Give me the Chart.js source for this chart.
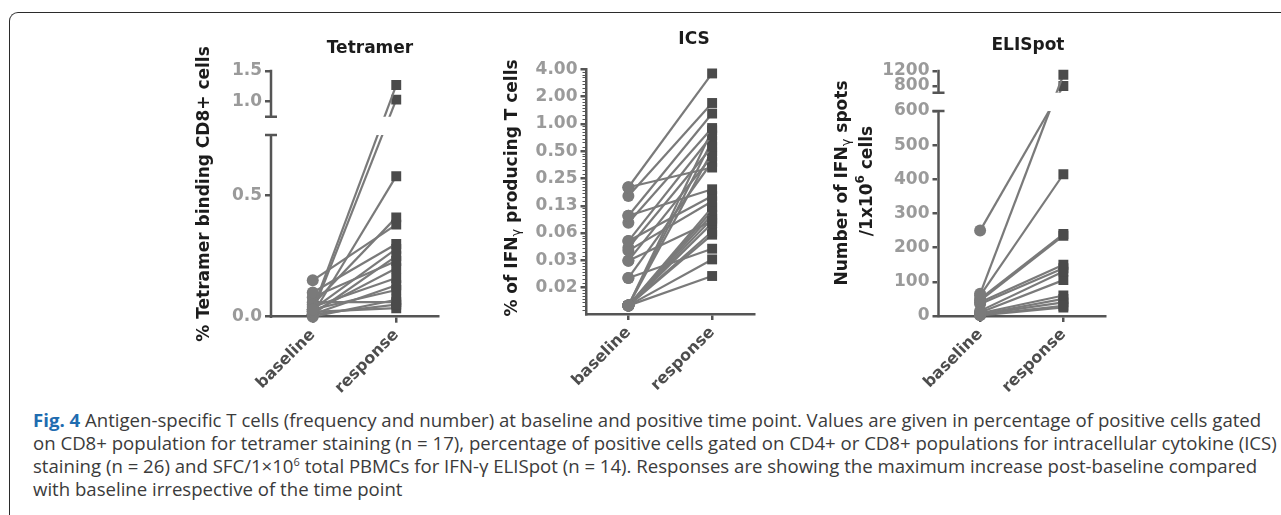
<!DOCTYPE html>
<html lang="en">
<head>
  <meta charset="UTF-8">
  <title>Fig. 4 Antigen-specific T cells</title>
  <script src="https://cdn.jsdelivr.net/npm/chart.js"></script>
  <style>
    html, body { margin: 0; padding: 0; background: #fff; }
    body { position: relative; width: 1281px; height: 515px; overflow: hidden; }
    #frame { position: absolute; left: 9px; top: 12px; width: 1400px; height: 600px;
             border-left: 1px solid #2b2b2b; border-top: 1px solid #2b2b2b; border-top-left-radius: 9px; }
    canvas { position: absolute; }
    #caption { position: absolute; left: 33px; top: 408px; font-family: "Open Sans", sans-serif;
               font-size: 18.6px; line-height: 23px; color: #3b3b3b; white-space: nowrap; }
    #caption b { color: #1f6cb0; }
    #caption sup { font-size: 11px; line-height: 0; }
  </style>
</head>
<body>
  <div id="frame"></div>
  <canvas id="tetramer" width="310" height="380" style="left:150px;top:20px"></canvas>
  <canvas id="ics" width="330" height="380" style="left:440px;top:20px"></canvas>
  <canvas id="elispot" width="330" height="380" style="left:800px;top:20px"></canvas>
  <div id="caption"><b>Fig. 4</b> Antigen-specific T cells (frequency and number) at baseline and positive time point. Values are given in percentage of positive cells gated<br>on CD8+ population for tetramer staining (n = 17), percentage of positive cells gated on CD4+ or CD8+ populations for intracellular cytokine (ICS)<br>staining (n = 26) and SFC/1×10<sup>6</sup> total PBMCs for IFN-γ ELISpot (n = 14). Responses are showing the maximum increase post-baseline compared<br>with baseline irrespective of the time point</div>

  <script>
    // ---- data ----
    const categories = ['baseline', 'response'];

    const tetramerBaseline = [0.03, 0.02, 0.01, 0.15, 0.05, 0.10, 0.03, 0.01, 0.08, 0.02, 0.04, 0.01, 0.03, 0.00, 0.06, 0.01, 0.02];
    const tetramerResponse = [1.27, 1.03, 0.58, 0.38, 0.41, 0.30, 0.28, 0.25, 0.23, 0.20, 0.16, 0.13, 0.11, 0.07, 0.06, 0.05, 0.035];
    const tetramerTicks = [0, 0.5, 1.0, 1.5];

    const icsBaseline = [0.20, 0.20, 0.16, 0.097, 0.097, 0.081, 0.051, 0.051, 0.043, 0.040, 0.031, 0.031, 0.020,
                         0.020, 0.0099, 0.0099, 0.0099, 0.0099, 0.0099, 0.0099, 0.0099, 0.0099, 0.0099, 0.0099, 0.0099, 0.0099];
    const icsResponse = [3.6, 0.33, 1.7, 1.3, 0.19, 0.9, 0.75, 0.16, 0.56, 0.14, 0.44, 0.085, 0.38,
                         0.042, 0.85, 0.65, 0.5, 0.12, 0.11, 0.10, 0.09, 0.08, 0.065, 0.06, 0.032, 0.021];
    const icsTicks = [0.015625, 0.03125, 0.0625, 0.125, 0.25, 0.5, 1, 2, 4];

    const elispotBaseline = [65, 250, 60, 50, 45, 40, 35, 15, 10, 8, 5, 5, 3, 2];
    const elispotResponse = [1100, 800, 415, 240, 235, 150, 140, 130, 105, 60, 50, 40, 30, 25];
    const elispotTicks = [0, 100, 200, 300, 400, 500, 600, 800, 1200];

    // ---- look ----
    const LINE = '#7a7a7a';
    const SQUARE = '#4b4b4b';
    const AXIS = '#555555';
    const TICK_GREY = '#9a9a9a';
    const LABEL_GREY = '#4d4d4d';
    const INK = '#1c1c1c';
    const FAMILY = '"DejaVu Sans", Verdana, sans-serif';
    const BOLD17 = 'bold 17px ' + FAMILY;

    Chart.defaults.font.family = FAMILY;
    Chart.defaults.animation = false;

    // linear axis with a break: lower part [min, lowMax], upper part [highMin, max]
    class BrokenScale extends Chart.LinearScale {
      static id = 'broken';
      static defaults = {};

      buildTicks() {
        return this.options.tickValues.map(v => ({ value: v }));
      }
      split() {
        const o = this.options;
        const avail = this.bottom - this.top - o.gap;
        const low = avail * o.lowShare;
        const gapTop = this.top + avail - low;
        return { low, high: avail - low, gapTop, gapBottom: gapTop + o.gap };
      }
      getPixelForValue(value) {
        const o = this.options;
        const s = this.split();
        if (value <= o.lowMax) return this.bottom - (value - this.min) / (o.lowMax - this.min) * s.low;
        return s.gapTop - (value - o.highMin) / (this.max - o.highMin) * s.high;
      }
      getValueForPixel(pixel) {
        const o = this.options;
        const s = this.split();
        if (pixel >= s.gapBottom) return this.min + (this.bottom - pixel) / s.low * (o.lowMax - this.min);
        return o.highMin + (s.gapTop - pixel) / s.high * (this.max - o.highMin);
      }
      drawBorder() {
        const ctx = this.ctx;
        const b = this.options.border;
        const cap = this.options.capLength;
        const x = this.right;
        const s = this.split();
        ctx.save();
        ctx.strokeStyle = b.color;
        ctx.lineWidth = b.width;
        ctx.beginPath();
        ctx.moveTo(x, this.bottom + b.width / 2);
        ctx.lineTo(x, s.gapBottom);
        ctx.moveTo(x - cap, s.gapBottom);
        ctx.lineTo(x + cap, s.gapBottom);
        ctx.moveTo(x - cap, s.gapTop);
        ctx.lineTo(x + cap, s.gapTop);
        ctx.moveTo(x, s.gapTop);
        ctx.lineTo(x, this.top - b.width / 2);
        ctx.stroke();
        ctx.restore();
      }
    }
    Chart.register(BrokenScale);

    // lines are not drawn inside the axis break
    const breakClip = {
      id: 'breakClip',
      beforeDatasetsDraw(chart) {
        const y = chart.scales.y;
        chart.ctx.save();
        if (y.type !== 'broken') return;
        const s = y.split();
        chart.ctx.beginPath();
        chart.ctx.rect(0, 0, chart.width, s.gapTop);
        chart.ctx.rect(0, s.gapBottom, chart.width, chart.height - s.gapBottom);
        chart.ctx.clip();
      },
      afterDatasetsDraw(chart) {
        chart.ctx.restore();
      }
    };

    // titles and axis titles, page coordinates
    const TEXTS = {
      tetramer: [
        { x: 370, y: 49, runs: [['Tetramer', BOLD17]] },
        { x: 205, y: 194, rot: true, runs: [['% Tetramer binding CD8+ cells', BOLD17]] }
      ],
      ics: [
        { x: 694, y: 40, runs: [['ICS', BOLD17]] },
        { x: 513, y: 188, rot: true, runs: [['% of IFN', BOLD17], ['γ', '13px ' + FAMILY, 4], [' producing T cells', BOLD17]] }
      ],
      elispot: [
        { x: 1028, y: 46, runs: [['ELISpot', BOLD17]] },
        { x: 843, y: 183, rot: true, runs: [['Number of IFN', BOLD17], ['γ', '13px ' + FAMILY, 4], [' spots', BOLD17]] },
        { x: 868, y: 181, rot: true, runs: [['/1x10', BOLD17], ['6', 'bold 12px ' + FAMILY, -7], [' cells', BOLD17]] }
      ]
    };

    const panelText = {
      id: 'panelText',
      afterDraw(chart) {
        const ctx = chart.ctx;
        const ox = chart.canvas.offsetLeft, oy = chart.canvas.offsetTop;
        (TEXTS[chart.canvas.id] || []).forEach(item => {
          ctx.save();
          ctx.translate(item.x - ox, item.y - oy);
          if (item.rot) ctx.rotate(-Math.PI / 2);
          ctx.fillStyle = INK;
          ctx.textBaseline = 'middle';
          ctx.textAlign = 'left';
          let total = 0;
          item.runs.forEach(r => { ctx.font = r[1]; total += ctx.measureText(r[0]).width; });
          let cx = -total / 2;
          item.runs.forEach(r => {
            ctx.font = r[1];
            ctx.fillText(r[0], cx, r[2] || 0);
            cx += ctx.measureText(r[0]).width;
          });
          ctx.restore();
        });
      }
    };

    function pairs(base, resp) {
      return base.map((b, i) => ({
        data: [b, resp[i]],
        borderColor: LINE,
        borderWidth: 2.2,
        pointStyle: ['circle', 'rect'],
        pointRadius: [6, 7],
        pointBackgroundColor: [LINE, SQUARE],
        pointBorderWidth: 0,
        clip: false,
        tension: 0
      }));
    }

    function xAxis() {
      return {
        type: 'category',
        offset: true,
        grid: { display: true, drawOnChartArea: false, offset: false, tickLength: 6, color: AXIS, lineWidth: 2.5 },
        border: { color: AXIS, width: 2.5 },
        ticks: { minRotation: 45, maxRotation: 45, autoSkip: false, padding: 3,
                 color: LABEL_GREY, font: { size: 16, weight: 'bold' } },
        afterFit: s => { s.height = 80; }
      };
    }

    function yCommon(width) {
      return {
        grid: { display: true, drawOnChartArea: false, tickLength: 6, color: AXIS, lineWidth: 2.5 },
        border: { color: AXIS, width: 2.5 },
        afterFit: s => { s.width = width; }
      };
    }

    const tickFont = { size: 17, weight: 'bold' };

    function makeChart(id, base, resp, yScale, padding, extraPlugins) {
      return new Chart(document.getElementById(id), {
        type: 'line',
        data: { labels: categories, datasets: pairs(base, resp) },
        options: {
          responsive: false,
          events: [],
          layout: { padding },
          plugins: { legend: { display: false }, tooltip: { enabled: false }, title: { display: false } },
          scales: { x: xAxis(), y: yScale }
        },
        plugins: [breakClip, panelText].concat(extraPlugins || [])
      });
    }

    // Tetramer
    makeChart('tetramer', tetramerBaseline, tetramerResponse, Object.assign(yCommon(121), {
      type: 'broken', min: 0, max: 1.5, lowMax: 0.75, highMin: 0.75, lowShare: 0.799, gap: 18.3, capLength: 6,
      tickValues: tetramerTicks,
      ticks: { autoSkip: false, padding: 3, color: TICK_GREY, font: tickFont,
               callback: v => Number(v).toFixed(1) }
    }), { left: 0, right: 22, top: 51, bottom: 3.3 });

    // ICS, log2 axis with minor ticks
    const icsMinor = {
      id: 'icsMinor',
      afterDraw(chart) {
        const y = chart.scales.y;
        const ctx = chart.ctx;
        const x = chart.chartArea.left;
        ctx.save();
        ctx.strokeStyle = AXIS;
        ctx.lineWidth = 1;
        ctx.beginPath();
        for (let k = 0; k < icsTicks.length; k++) {
          const lo = icsTicks[k] / 2;
          for (let j = 1; j < 8; j++) {
            const v = lo * (1 + j / 8);
            if (v < y.min) continue;
            const py = Math.round(y.getPixelForValue(v)) + 0.5;
            ctx.moveTo(x - 4, py);
            ctx.lineTo(x, py);
          }
        }
        ctx.stroke();
        ctx.restore();
      }
    };
    makeChart('ics', icsBaseline, icsResponse, Object.assign(yCommon(146.5), {
      type: 'logarithmic', min: 0.008, max: 4,
      afterBuildTicks: s => { s.ticks = icsTicks.map(v => ({ value: v })); },
      ticks: { autoSkip: false, padding: 3, color: TICK_GREY, font: tickFont,
               callback: v => Number(v).toFixed(2) }
    }), { left: 0, right: 16, top: 49.3, bottom: 6 }, [icsMinor]);

    // ELISpot
    makeChart('elispot', elispotBaseline, elispotResponse, Object.assign(yCommon(138.5), {
      type: 'broken', min: 0, max: 1200, lowMax: 600, highMin: 620, lowShare: 0.904, gap: 18.3, capLength: 6,
      tickValues: elispotTicks,
      ticks: { autoSkip: false, padding: 3, color: TICK_GREY, font: tickFont,
               callback: v => String(v) }
    }), { left: 0, right: 25, top: 51, bottom: 4 });
  </script>
</body>
</html>
